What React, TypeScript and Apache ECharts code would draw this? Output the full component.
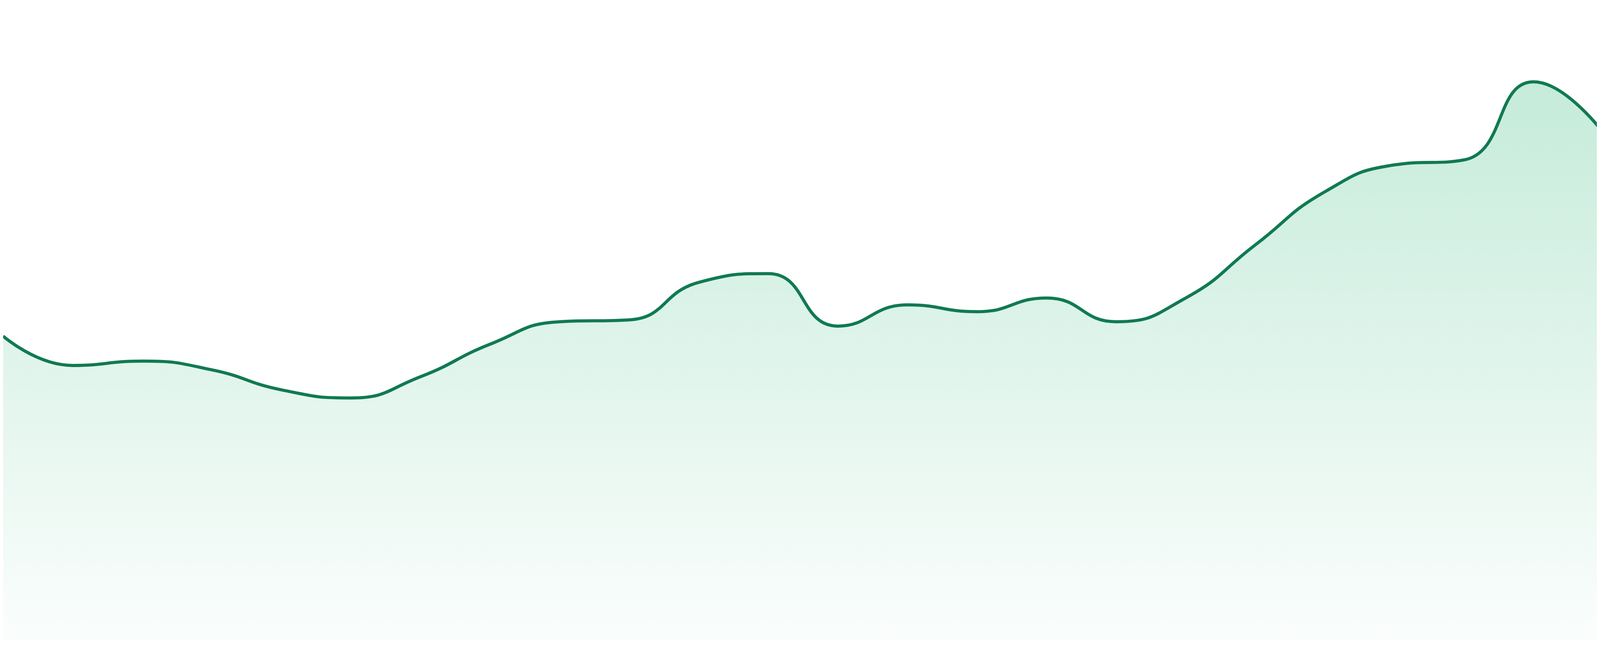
import * as echarts from 'echarts';
import React, { useEffect, useRef } from 'react';

const categories = [
  'P01', 'P02', 'P03', 'P04', 'P05', 'P06', 'P07', 'P08',
  'P09', 'P10', 'P11', 'P12', 'P13', 'P14', 'P15', 'P16',
  'P17', 'P18', 'P19', 'P20', 'P21', 'P22', 'P23', 'P24',
];

const values = [
  48.7, 44.0, 44.7, 43.3, 40.1, 38.8, 42.2, 47.4,
  51.0, 51.3, 57.3, 58.7, 50.3, 53.7, 52.6, 54.8,
  51.0, 54.8, 63.3, 71.8, 76.1, 76.9, 89.4, 81.3,
];

const LINE_COLOR = '#117a52';

const App: React.FC = () => {
  const chartRef = useRef<HTMLDivElement>(null);

  useEffect(() => {
    const myChart = echarts.init(chartRef.current!, undefined, { renderer: 'svg' });

    const option = {
      animation: false,
      grid: { left: 0, right: 0, top: '1.9%', bottom: '2.86%' },
      tooltip: { show: false },
      xAxis: {
        type: 'category',
        data: categories,
        boundaryGap: false,
        show: false,
      },
      yAxis: {
        type: 'value',
        min: 0,
        max: 100,
        show: false,
      },
      series: [
        {
          type: 'line',
          data: values,
          smooth: true,
          symbol: 'none',
          lineStyle: { color: LINE_COLOR, width: 8 },
          areaStyle: {
            color: new echarts.graphic.LinearGradient(0, 0, 0, 1, [
              { offset: 0, color: 'rgba(50, 185, 125, 0.4)' },
              { offset: 1, color: 'rgba(50, 185, 125, 0.03)' },
            ]),
          },
        },
      ],
    };

    myChart.setOption(option);
    const onResize = () => myChart.resize();
    window.addEventListener('resize', onResize);

    return () => {
      window.removeEventListener('resize', onResize);
      myChart.dispose();
    };
  }, []);

  return (
    <div
      ref={chartRef}
      style={{ position: 'fixed', left: 0, top: 0, width: '100vw', height: '100vh' }}
    />
  );
};

export default App;
